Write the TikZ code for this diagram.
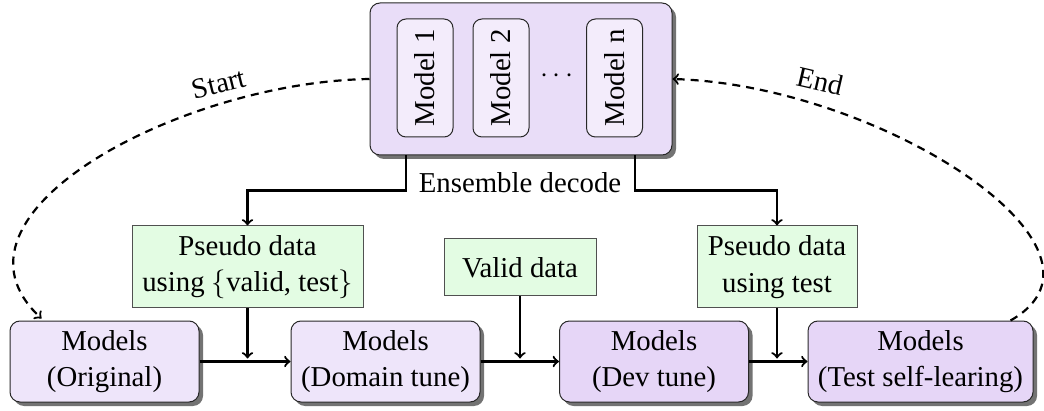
\documentclass[tikz,border=0pt]{standalone}
\usepackage{fontspec}
\setmainfont{Liberation Serif}
\usetikzlibrary{shadows,calc}
\definecolor{topfill}{RGB}{233,221,248}
\definecolor{innerfill}{RGB}{243,236,251}
\definecolor{origfill}{RGB}{238,229,250}
\definecolor{devfill}{RGB}{230,214,247}
\definecolor{greenfill}{RGB}{227,252,227}
\definecolor{boxline}{RGB}{40,40,40}
\definecolor{greenline}{RGB}{80,80,80}
\tikzset{
  txt/.style={font=\fontsize{14.4}{18.3}\selectfont, align=center},
  shad/.style={drop shadow={shadow xshift=2pt, shadow yshift=-2pt, fill=black!55, opacity=1}},
  modelbox/.style={txt, draw=boxline, line width=0.5pt, rounded corners=5pt, shad,
    minimum width=94.5pt, minimum height=40.5pt, inner sep=2pt},
  topbox/.style={draw=boxline, line width=0.5pt, rounded corners=5pt, shad, fill=topfill,
    minimum width=151pt, minimum height=76pt, inner sep=0pt},
  innerbox/.style={txt, draw=boxline, line width=0.5pt, rounded corners=4.5pt, fill=innerfill,
    rotate=90, minimum width=59pt, minimum height=28pt, inner sep=0pt},
  databox/.style={txt, draw=greenline, line width=0.5pt, fill=greenfill, inner sep=2pt},
  conn/.style={->, line width=1.1pt},
  dconn/.style={->, dash pattern=on 4pt off 3pt, line width=1.1pt},
}
\begin{document}
\begin{tikzpicture}[x=0.5pt,y=-0.5pt]
\useasboundingbox (0,0) rectangle (1044,411);
% top ensemble box
\node[topbox] (top) at (521,79) {};
\node[innerbox] (m1) at (425,78) {Model 1};
\node[innerbox] (m2) at (501,78) {Model 2};
\node[innerbox] (mn) at (614.5,78) {Model n};
\node[txt] (dots) at (557,76) {$\cdots$};
% data boxes
\node[databox, minimum width=115.5pt, minimum height=41pt] (p1) at (247.5,267) {Pseudo data\\using $\{$valid, test$\}$};
\node[databox, minimum width=76pt, minimum height=28.5pt] (v) at (520,267.5) {Valid data};
\node[databox, minimum width=80pt, minimum height=41pt] (p2) at (777,267) {Pseudo data\\using test};
% model boxes
\node[modelbox, fill=origfill] (o) at (104.5,361.5) {Models\\(Original)};
\node[modelbox, fill=origfill] (d) at (385.5,361.5) {Models\\(Domain tune)};
\node[modelbox, fill=devfill] (dv) at (654,361.5) {Models\\(Dev tune)};
\node[modelbox, fill=devfill, minimum width=112.5pt] (t) at (920.5,361.5) {Models\\(Test self-learing)};
% ensemble decode
\node[txt] (ed) at (520,183) {Ensemble decode};
\draw[conn] ([xshift=-57.5pt]top.south) -- ++(0,35) -| (p1.north);
\draw[conn] ([xshift=57pt]top.south) -- ++(0,35) -| (p2.north);
% chain
\draw[conn] (o.east) -- (d.west);
\draw[conn] (d.east) -- (dv.west);
\draw[conn] (dv.east) -- (t.west);
\draw[conn, shorten >=1.5pt] (p1.south) -- (p1.south |- o.east);
\draw[conn, shorten >=1.5pt] (v.south) -- (v.south |- d.east);
\draw[conn, shorten >=1.5pt] (p2.south) -- (p2.south |- dv.east);
% loop
\draw[dconn] (top.west) .. controls (180,82) and (-70,215) .. ([xshift=16pt,yshift=1pt]o.north west);
\draw[dconn] ([xshift=-11.5pt]t.north east) .. controls (1135,250) and (880,85) .. (top.east);
\node[txt, rotate=14] (start) at (219,84) {Start};
\node[txt, rotate=-13] (end) at (820,81) {End};
\end{tikzpicture}
\end{document}
